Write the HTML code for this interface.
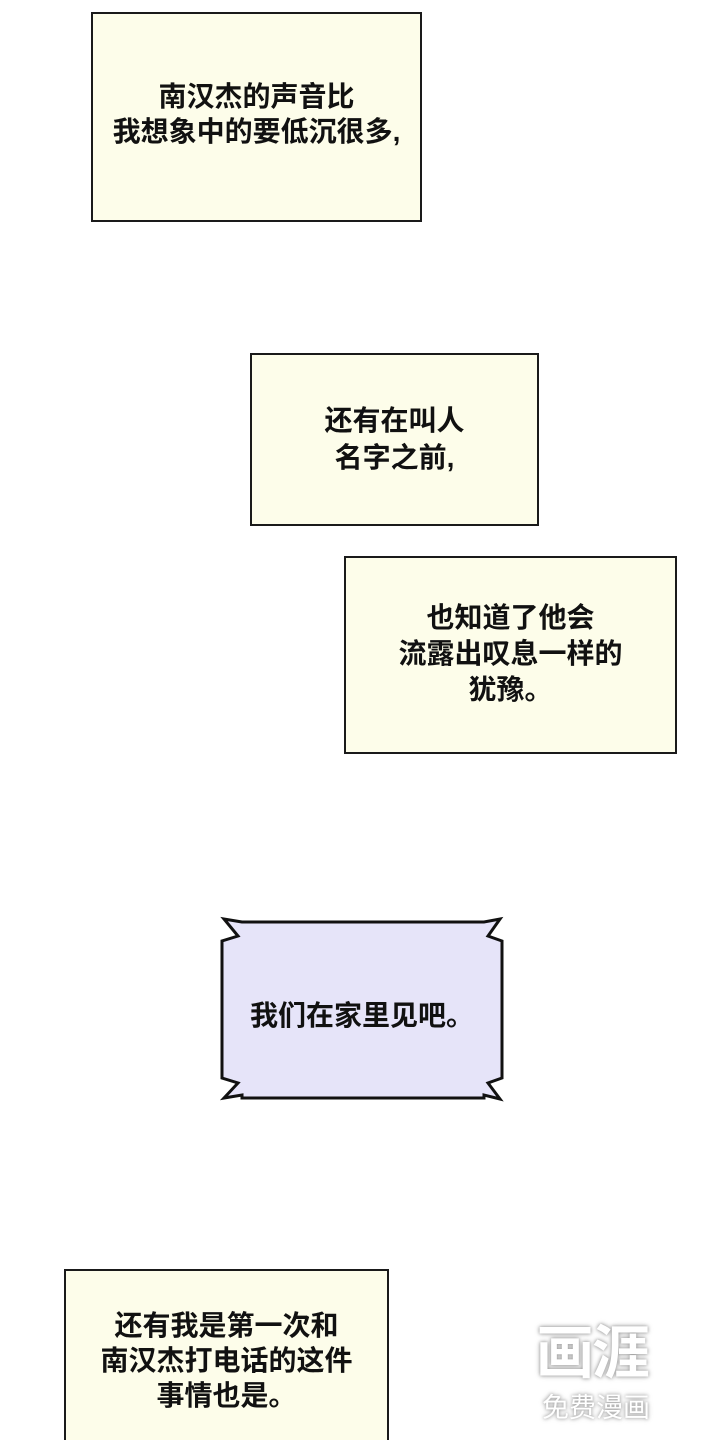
<!DOCTYPE html>
<html><head><meta charset="utf-8"><style>
html,body{margin:0;padding:0;background:#fff;width:720px;height:1440px;overflow:hidden;position:relative}
.b{position:absolute;box-sizing:border-box;border:2px solid #1a1a1a;background:#fdfdea}
.t{position:absolute;left:0;right:0;text-align:center;font-family:"Liberation Sans","Noto Sans CJK SC",sans-serif;font-size:28px;font-weight:600;line-height:35px;color:#111;white-space:nowrap}
.wm{position:absolute;font-family:"Liberation Sans","Noto Sans CJK SC",sans-serif;color:#fff;text-shadow:0 0 3px #999,0 0 6px #bbb;font-weight:700}
</style></head><body>
<div class="b" style="left:91px;top:12px;width:331px;height:210px"></div>
<div class="t" style="left:91px;width:331px;right:auto;top:79px">南汉杰的声音比<br>我想象中的要低沉很多,</div>

<div class="b" style="left:250px;top:353px;width:289px;height:173px"></div>
<div class="t" style="left:250px;width:289px;right:auto;top:402px;line-height:37px">还有在叫人<br>名字之前,</div>

<div class="b" style="left:344px;top:556px;width:333px;height:198px"></div>
<div class="t" style="left:344px;width:333px;right:auto;top:600px;line-height:36px">也知道了他会<br>流露出叹息一样的<br>犹豫。</div>

<svg style="position:absolute;left:0;top:0" width="720" height="1440">
<polygon points="242,922 224,919 238,936 222,941 222,1078 238,1083 224,1098 242,1095 242,1098 484,1098 484,1095 500,1099 488,1083 502,1078 502,941 488,936 500,919 484,922"
 fill="#e6e4f9" stroke="#111" stroke-width="3" stroke-linejoin="miter"/>
</svg>
<div class="t" style="left:222px;width:280px;right:auto;top:998px">我们在家里见吧。</div>

<div class="b" style="left:64px;top:1269px;width:325px;height:190px"></div>
<div class="t" style="left:64px;width:325px;right:auto;top:1308px">还有我是第一次和<br>南汉杰打电话的这件<br>事情也是。</div>

<div class="wm" style="left:536px;top:1322px;font-size:58px;letter-spacing:-2px;line-height:64px">画涯</div>
<div class="wm" style="left:542px;top:1392px;font-size:27px;font-weight:400;line-height:32px">免费漫画</div>
</body></html>
